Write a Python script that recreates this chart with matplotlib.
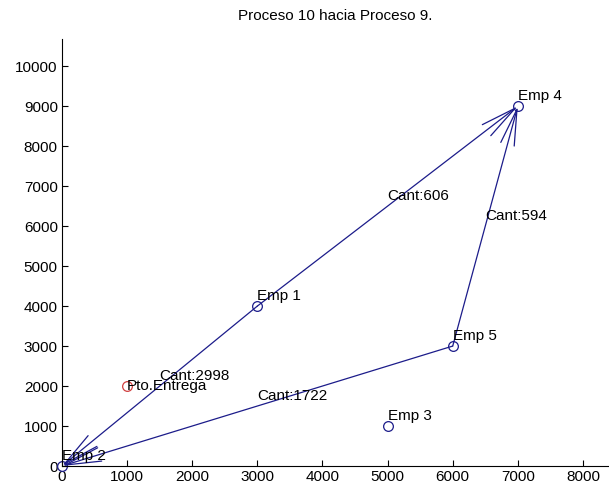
import numpy as np
import matplotlib.pyplot as plt

plt.rcParams['font.family'] = ['Liberation Sans', 'DejaVu Sans']

# Puntos (empresas) y punto de entrega
emp_names = ['Emp 1', 'Emp 2', 'Emp 3', 'Emp 4', 'Emp 5']
emp_x = [3000, 0, 5000, 7000, 6000]
emp_y = [4000, 0, 1000, 9000, 3000]
entrega_x, entrega_y = 1000, 2000

# Rutas: origen -> destino (indices en emp_*), cantidad
edge_from = [0, 0, 4, 4]
edge_to = [1, 3, 3, 1]
edge_cant = [2998, 606, 594, 1722]

line_col = '#1c1c8a'
fs = 11

fig = plt.figure(figsize=(6.09, 4.95), dpi=100)
ax = fig.add_axes([62 / 609, 29 / 495, 547 / 609, 427 / 495])

for i, j, c in zip(edge_from, edge_to, edge_cant):
    x0, y0 = emp_x[i], emp_y[i]
    x1, y1 = emp_x[j], emp_y[j]
    ax.annotate('', xy=(x1, y1), xytext=(x0, y0),
                arrowprops=dict(arrowstyle='->,head_length=1.3,head_width=0.25',
                                color=line_col, lw=0.9, shrinkA=0, shrinkB=0,
                                mutation_scale=20))
    xm, ym = (x0 + x1) / 2, (y0 + y1) / 2
    ax.text(xm, ym + 250, 'Cant:%d' % c, fontsize=fs, ha='left', va='center')

ax.plot(emp_x, emp_y, 'o', mfc='none', mec=line_col, ms=7, mew=0.9, clip_on=False)
ax.plot(entrega_x, entrega_y, 'o', mfc='none', mec='#d04040', ms=7, mew=0.9)

for n, x, y in zip(emp_names, emp_x, emp_y):
    ax.text(x, y + 250, n, fontsize=fs, ha='left', va='center')
ax.text(entrega_x, entrega_y, 'Pto.Entrega', fontsize=fs, ha='left', va='center')

ax.set_xlim(0, 8400)
ax.set_ylim(0, 10680)
ax.set_xticks(np.arange(0, 8001, 1000))
ax.set_yticks(np.arange(0, 10001, 1000))
ax.spines['top'].set_visible(False)
ax.spines['right'].set_visible(False)
ax.tick_params(direction='in', labelsize=fs, length=4, pad=3)
ax.set_title('Proceso 10 hacia Proceso 9.', fontsize=fs, pad=14)

fig.savefig('out.png', dpi=100)
